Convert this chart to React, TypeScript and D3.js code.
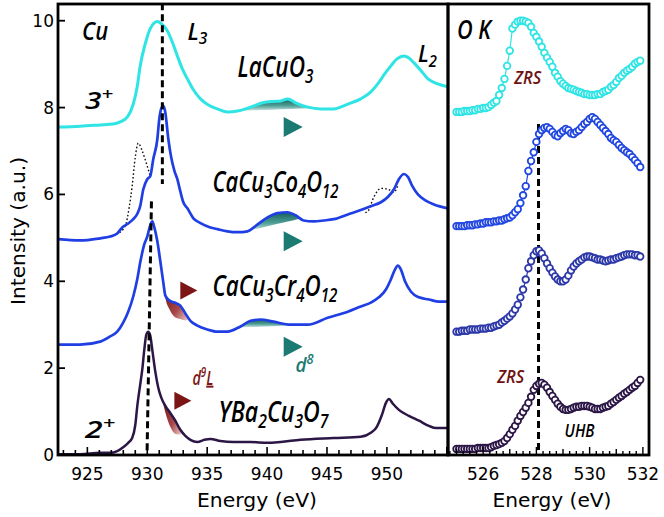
import React from "react";
import * as d3 from "d3";

const W = 664;
const H = 517;

// ---------------- Cu L-edge spectra (left panel): energy (eV) / intensity (a.u.) ----------------
const laCuO3E = [922.55, 924.39, 926.07, 927.15, 927.74, 928.33, 928.83, 929.16, 929.41, 929.83, 930.25, 930.59, 930.84, 931.17, 931.67, 932.09, 932.51, 932.93, 933.35, 933.85, 934.44, 935.1, 935.86, 936.69, 937.53, 938.62, 939.62, 940.46, 941.13, 941.72, 942.38, 943.39, 944.48, 945.56, 946.74, 947.82, 948.66, 949.25, 949.83, 950.33, 950.84, 951.42, 951.84, 952.26, 952.85, 953.43, 954.02, 954.52, 955.1];
const laCuO3I = [7.55, 7.57, 7.6, 7.62, 7.67, 7.78, 8.08, 8.48, 8.96, 9.47, 9.82, 9.95, 9.98, 9.93, 9.77, 9.51, 9.19, 8.89, 8.66, 8.41, 8.2, 8.06, 7.97, 7.9, 7.92, 8.01, 8.11, 8.14, 8.15, 8.2, 8.11, 8.01, 7.97, 7.97, 8.08, 8.2, 8.36, 8.55, 8.78, 8.96, 9.12, 9.19, 9.14, 9.03, 8.85, 8.66, 8.57, 8.52, 8.48];

const co4E = [922.55, 924.39, 926.07, 926.9, 927.49, 927.91, 928.41, 928.83, 929.16, 929.41, 929.67, 930.0, 930.25, 930.5, 930.84, 931.0, 931.2, 931.34, 931.5, 931.76, 932.0, 932.26, 932.51, 932.76, 933.01, 933.35, 933.85, 934.44, 935.27, 935.86, 936.69, 937.53, 938.37, 939.21, 940.04, 940.88, 941.72, 942.38, 943.05, 943.89, 944.73, 945.56, 946.74, 947.82, 948.66, 949.5, 950.08, 950.59, 951.0, 951.42, 951.76, 952.09, 952.59, 953.18, 953.93, 955.1];
const co4I = [4.97, 4.94, 4.99, 5.03, 5.1, 5.24, 5.33, 5.43, 5.55, 5.73, 6.12, 6.35, 6.42, 6.81, 7.27, 7.73, 8.0, 8.04, 7.9, 7.27, 6.85, 6.55, 6.35, 6.07, 5.82, 5.68, 5.45, 5.34, 5.24, 5.2, 5.15, 5.13, 5.15, 5.31, 5.47, 5.57, 5.59, 5.52, 5.4, 5.38, 5.4, 5.43, 5.54, 5.64, 5.73, 5.82, 5.94, 6.12, 6.35, 6.47, 6.4, 6.21, 6.0, 5.87, 5.77, 5.68];

// reference (dotted) spectrum segments near L3 and L2
const refL3E = [927.4, 928.16, 928.49, 928.74, 929.0, 929.25, 929.58, 930.0, 930.25];
const refL3I = [5.08, 5.27, 5.7, 6.19, 6.86, 7.18, 7.0, 6.65, 6.42];
const refL2E = [948.2, 948.41, 948.91, 949.5, 950.08, 950.59, 950.92];
const refL2I = [5.58, 5.61, 5.94, 6.14, 6.12, 6.05, 6.21];

const cr4E = [922.55, 924.39, 926.07, 926.9, 927.49, 927.99, 928.41, 928.83, 929.16, 929.41, 929.75, 930.0, 930.25, 930.42, 930.59, 930.84, 931.09, 931.34, 931.51, 931.84, 932.26, 932.76, 933.18, 933.6, 934.18, 935.02, 935.86, 936.69, 937.78, 938.62, 939.46, 940.54, 941.97, 943.39, 945.06, 946.74, 947.82, 948.66, 949.33, 949.92, 950.33, 950.67, 950.92, 951.17, 951.51, 952.01, 952.68, 953.51, 954.35, 955.1];
const cr4I = [2.54, 2.54, 2.61, 2.73, 2.84, 3.05, 3.3, 3.65, 4.04, 4.43, 4.85, 5.03, 5.29, 5.38, 5.24, 4.92, 4.46, 3.97, 3.67, 3.56, 3.51, 3.44, 3.26, 3.09, 2.98, 2.89, 2.84, 2.84, 2.96, 3.09, 3.12, 3.07, 3.0, 3.0, 3.16, 3.3, 3.42, 3.51, 3.63, 3.81, 4.04, 4.27, 4.36, 4.27, 4.0, 3.76, 3.63, 3.58, 3.53, 3.53];

const ybcoE = [922.55, 924.39, 926.07, 926.9, 927.49, 927.99, 928.41, 928.74, 929.0, 929.16, 929.41, 929.58, 929.75, 929.92, 930.08, 930.25, 930.42, 930.67, 930.92, 931.17, 931.51, 931.92, 932.34, 932.76, 933.18, 933.6, 934.18, 934.77, 935.27, 936.11, 937.2, 938.62, 940.04, 941.13, 942.8, 945.56, 947.82, 948.66, 949.16, 949.58, 949.92, 950.17, 950.5, 951.0, 951.84, 952.68, 953.51, 954.1, 955.1];
const ybcoI = [0.02, 0.02, 0.05, 0.05, 0.09, 0.18, 0.28, 0.39, 0.69, 1.11, 1.62, 1.96, 2.42, 2.77, 2.84, 2.75, 2.42, 1.92, 1.55, 1.32, 1.13, 0.97, 0.79, 0.58, 0.44, 0.35, 0.3, 0.35, 0.37, 0.32, 0.3, 0.3, 0.28, 0.3, 0.35, 0.39, 0.42, 0.51, 0.65, 0.92, 1.2, 1.29, 1.18, 1.04, 0.9, 0.79, 0.67, 0.62, 0.62];

// ---------------- O K-edge spectra (right panel) ----------------
const okE = [525.0, 525.1, 525.2, 525.3, 525.4, 525.5, 525.6, 525.7, 525.8, 525.9, 526.0, 526.1, 526.2, 526.3, 526.4, 526.5, 526.6, 526.7, 526.8, 526.9, 527.0, 527.1, 527.2, 527.3, 527.4, 527.5, 527.6, 527.7, 527.8, 527.9, 528.0, 528.1, 528.2, 528.3, 528.4, 528.5, 528.6, 528.7, 528.8, 528.9, 529.0, 529.1, 529.2, 529.3, 529.4, 529.5, 529.6, 529.7, 529.8, 529.9, 530.0, 530.1, 530.2, 530.3, 530.4, 530.5, 530.6, 530.7, 530.8, 530.9, 531.0, 531.1, 531.2, 531.3, 531.4, 531.5, 531.6, 531.7, 531.8, 531.9];
const okLaCuO3 = [7.9, 7.9, 7.9, 7.92, 7.92, 7.92, 7.94, 7.94, 7.97, 7.97, 7.99, 7.99, 8.01, 8.06, 8.11, 8.15, 8.29, 8.45, 8.66, 8.96, 9.31, 9.82, 9.91, 9.98, 10.0, 10.0, 9.98, 9.95, 9.86, 9.72, 9.63, 9.52, 9.4, 9.26, 9.15, 9.05, 8.94, 8.8, 8.71, 8.61, 8.55, 8.5, 8.45, 8.43, 8.41, 8.38, 8.36, 8.34, 8.31, 8.31, 8.29, 8.29, 8.29, 8.31, 8.31, 8.36, 8.38, 8.41, 8.48, 8.52, 8.59, 8.68, 8.73, 8.8, 8.85, 8.89, 8.94, 9.01, 9.05, 9.08];
const okCo4 = [5.27, 5.27, 5.27, 5.27, 5.29, 5.29, 5.29, 5.31, 5.31, 5.33, 5.33, 5.36, 5.36, 5.36, 5.38, 5.38, 5.4, 5.4, 5.43, 5.45, 5.47, 5.52, 5.59, 5.66, 5.8, 5.98, 6.19, 6.54, 6.77, 6.97, 7.21, 7.39, 7.48, 7.53, 7.55, 7.51, 7.44, 7.37, 7.34, 7.41, 7.46, 7.51, 7.48, 7.41, 7.39, 7.44, 7.48, 7.55, 7.62, 7.67, 7.74, 7.78, 7.74, 7.67, 7.6, 7.53, 7.46, 7.39, 7.3, 7.25, 7.21, 7.14, 7.07, 7.02, 6.97, 6.93, 6.86, 6.79, 6.72, 6.63];
const okCr4 = [2.84, 2.84, 2.86, 2.86, 2.86, 2.89, 2.89, 2.89, 2.89, 2.91, 2.91, 2.91, 2.93, 2.93, 2.96, 2.98, 3.0, 3.05, 3.09, 3.14, 3.19, 3.26, 3.35, 3.46, 3.63, 3.81, 4.04, 4.3, 4.46, 4.6, 4.69, 4.71, 4.64, 4.53, 4.41, 4.3, 4.2, 4.11, 4.04, 4.0, 4.0, 4.04, 4.13, 4.25, 4.34, 4.41, 4.46, 4.5, 4.55, 4.57, 4.57, 4.55, 4.53, 4.5, 4.5, 4.48, 4.46, 4.48, 4.5, 4.5, 4.53, 4.55, 4.57, 4.6, 4.62, 4.62, 4.62, 4.6, 4.6, 4.57];
const okYBCO = [0.14, 0.14, 0.14, 0.14, 0.14, 0.14, 0.14, 0.14, 0.16, 0.16, 0.16, 0.16, 0.16, 0.18, 0.21, 0.23, 0.25, 0.28, 0.32, 0.39, 0.48, 0.58, 0.67, 0.79, 0.9, 0.99, 1.09, 1.2, 1.34, 1.5, 1.59, 1.64, 1.66, 1.62, 1.55, 1.45, 1.36, 1.27, 1.18, 1.11, 1.06, 1.04, 1.04, 1.06, 1.09, 1.11, 1.11, 1.13, 1.13, 1.13, 1.11, 1.09, 1.06, 1.06, 1.06, 1.09, 1.11, 1.13, 1.18, 1.22, 1.27, 1.32, 1.36, 1.41, 1.45, 1.5, 1.55, 1.59, 1.66, 1.73];

// ---------------- axes ----------------
const cuTickLabels = [925, 930, 935, 940, 945, 950];
const okTickLabels = [526, 528, 530, 532];
const yTickLabels = [0, 2, 4, 6, 8, 10];

// dashed guide lines [energy, intensity] pairs
const guideUpper = [[931.26, 10.4], [931.26, 6.24]];
const guideLower = [[930.35, 5.84], [929.98, 0]];
const guideOK = [[528.08, 7.62], [528.08, 0]];

// shaded features: [series, from eV, to eV]
const tealRanges = [
  ["la", 937.36, 943.89],
  ["co", 938.03, 942.8],
  ["cr", 937.53, 943.39],
];
const redRanges = [
  ["cr", 931.42, 933.51],
  ["yb", 931.26, 932.93],
];
// triangle markers [eV, intensity, kind]
const markers = [
  [942.18, 7.55, "teal"],
  [942.18, 4.92, "teal"],
  [942.18, 2.49, "teal"],
  [933.47, 3.79, "red"],
  [932.97, 1.25, "red"],
];

const COLORS = {
  cyan: "#2fe4e4",
  blue: "#1f3fe4",
  okBlue: "#2147e0",
  navy: "#2c37a8",
  dark: "#2b1646",
  teal: "#1b7a72",
  red: "#7c1616",
};

type Part = { t: string; s?: "sub" | "sup"; u?: boolean };

function Formula(props: {
  x: number;
  y: number;
  parts: Part[];
  size: number;
  fill?: string;
  len?: number;
  weight?: number;
}) {
  const { x, y, parts, size, fill = "#000", len, weight = 600 } = props;
  let cur = 0;
  const els = parts.map((p, i) => {
    const target = p.s === "sub" ? size * 0.2 : p.s === "sup" ? -size * 0.36 : 0;
    const dy = target - cur;
    cur = target;
    return (
      <tspan
        key={i}
        dy={dy}
        fontSize={p.s ? size * 0.68 : size}
        textDecoration={p.u ? "underline" : undefined}
      >
        {p.t}
      </tspan>
    );
  });
  return (
    <text
      x={x}
      y={y}
      fill={fill}
      fontSize={size}
      fontStyle="italic"
      fontWeight={weight}
      fontFamily="'Open Sans', 'Noto Sans', sans-serif"
      textLength={len}
      lengthAdjust={len ? "spacingAndGlyphs" : undefined}
    >
      {els}
    </text>
  );
}

function interp(E: number[], I: number[], x: number) {
  for (let i = 0; i < E.length - 1; i++) {
    if (x >= E[i] && x <= E[i + 1]) {
      const t = (x - E[i]) / (E[i + 1] - E[i]);
      return I[i] + t * (I[i + 1] - I[i]);
    }
  }
  return I[I.length - 1];
}

export default function App() {
  const xL = d3.scaleLinear().domain([922.55, 955.1]).range([58, 448]);
  const y = d3.scaleLinear().domain([0, 10.385]).range([455, 4]);
  const xR = d3.scaleLinear().domain([524.68, 532.23]).range([448, 649]);

  const series: Record<string, [number[], number[]]> = {
    la: [laCuO3E, laCuO3I],
    co: [co4E, co4I],
    cr: [cr4E, cr4I],
    yb: [ybcoE, ybcoI],
  };

  const lineL = (E: number[], I: number[], curve = d3.curveMonotoneX) =>
    d3
      .line<number>()
      .x((_, i) => xL(E[i]))
      .y((d) => y(d))
      .curve(curve)(I) || "";

  const lineR = (I: number[]) =>
    d3
      .line<number>()
      .x((_, i) => xR(okE[i]))
      .y((d) => y(d))
      .curve(d3.curveLinear)(I) || "";

  const shadeArea = (key: string, a: number, b: number, mode: "chord" | "lens", h: number) => {
    const [E, I] = series[key];
    const pts: [number, number][] = [[a, interp(E, I, a)]];
    E.forEach((e, i) => {
      if (e > a && e < b) pts.push([e, I[i]]);
    });
    pts.push([b, interp(E, I, b)]);
    const ya = pts[0][1];
    const yb = pts[pts.length - 1][1];
    return (
      d3
        .area<[number, number]>()
        .x((d) => xL(d[0]))
        .y1((d) => y(d[1]))
        .y0((d) => {
          const t = (d[0] - a) / (b - a);
          const base = mode === "chord" ? ya + (yb - ya) * t : d[1] - h * Math.sin(Math.PI * t);
          return y(base);
        })
        .curve(d3.curveMonotoneX)(pts) || ""
    );
  };

  const tri = (cx: number, cy: number, w: number, hh: number) =>
    `M${cx - w / 2},${cy - hh / 2}L${cx + w / 2},${cy}L${cx - w / 2},${cy + hh / 2}Z`;

  const axisFont = "'DejaVu Sans', 'Liberation Sans', sans-serif";

  const leftTicks = d3.range(923, 956);
  const rightTicks = d3.range(524.75, 532.24, 0.25);

  const okSeries: [number[], string][] = [
    [okLaCuO3, COLORS.cyan],
    [okCo4, COLORS.okBlue],
    [okCr4, COLORS.navy],
    [okYBCO, COLORS.dark],
  ];

  return (
    <svg
      width={W}
      height={H}
      viewBox={`0 0 ${W} ${H}`}
      style={{ position: "absolute", left: 0, top: 0, background: "#fff" }}
    >
      <defs>
        <clipPath id="clipL">
          <rect x={58} y={4} width={390} height={451} />
        </clipPath>
        <clipPath id="clipR">
          <rect x={448} y={4} width={201} height={451} />
        </clipPath>
        <linearGradient id="tealGrad" x1="0" y1="0" x2="0" y2="1">
          <stop offset="0" stopColor="#135f58" />
          <stop offset="0.55" stopColor="#4f9f97" />
          <stop offset="1" stopColor="#d8ecea" />
        </linearGradient>
        <linearGradient id="redGrad" x1="0" y1="0" x2="1" y2="1">
          <stop offset="0" stopColor="#701010" />
          <stop offset="0.6" stopColor="#a84848" />
          <stop offset="1" stopColor="#f2d2d2" />
        </linearGradient>
      </defs>

      <rect x={0} y={0} width={W} height={H} fill="#fff" />

      {/* ---------- left panel ---------- */}
      <g clipPath="url(#clipL)">
        {tealRanges.map(([k, a, b], i) => (
          <path key={"t" + i} d={shadeArea(k as string, a as number, b as number, "chord", 0)} fill="url(#tealGrad)" />
        ))}
        {redRanges.map(([k, a, b], i) => (
          <path key={"r" + i} d={shadeArea(k as string, a as number, b as number, "lens", 0.34)} fill="url(#redGrad)" />
        ))}
        <path d={lineL(refL3E, refL3I)} fill="none" stroke="#111" strokeWidth={1.4} strokeDasharray="1.6 2.2" />
        <path d={lineL(refL2E, refL2I)} fill="none" stroke="#111" strokeWidth={1.4} strokeDasharray="1.6 2.2" />
        <path d={lineL(laCuO3E, laCuO3I)} fill="none" stroke={COLORS.cyan} strokeWidth={3} />
        <path d={lineL(co4E, co4I)} fill="none" stroke={COLORS.blue} strokeWidth={2.7} />
        <path d={lineL(cr4E, cr4I)} fill="none" stroke={COLORS.blue} strokeWidth={2.7} />
        <path d={lineL(ybcoE, ybcoI)} fill="none" stroke={COLORS.dark} strokeWidth={2.5} />
        {[guideUpper, guideLower].map((g, i) => (
          <line
            key={"g" + i}
            x1={xL(g[0][0])}
            y1={y(g[0][1])}
            x2={xL(g[1][0])}
            y2={y(g[1][1])}
            stroke="#000"
            strokeWidth={3}
            strokeDasharray="7 4"
          />
        ))}
        {markers.map(([e, v, k], i) => (
          <path
            key={"m" + i}
            d={tri(xL(e as number), y(v as number), k === "teal" ? 19 : 17, k === "teal" ? 20 : 18)}
            fill={k === "teal" ? COLORS.teal : COLORS.red}
          />
        ))}
      </g>

      {/* left annotations */}
      <Formula x={xL(924.56)} y={y(9.56)} size={25} len={26} parts={[{ t: "Cu" }]} />
      <Formula x={xL(933.35)} y={y(9.56)} size={23} len={20} parts={[{ t: "L" }, { t: "3", s: "sub" }]} />
      <Formula x={xL(952.59)} y={y(9.05)} size={23} len={19} parts={[{ t: "L" }, { t: "2", s: "sub" }]} />
      <Formula x={xL(924.81)} y={y(7.97)} size={24} len={28} parts={[{ t: "3" }, { t: "+", s: "sup" }]} />
      <Formula x={xL(937.53)} y={y(8.7)} size={29} len={76} parts={[{ t: "LaCuO" }, { t: "3", s: "sub" }]} />
      <Formula
        x={xL(935.44)}
        y={y(6.05)}
        size={29}
        len={126}
        parts={[{ t: "CaCu" }, { t: "3", s: "sub" }, { t: "Co" }, { t: "4", s: "sub" }, { t: "O" }, { t: "12", s: "sub" }]}
      />
      <Formula
        x={xL(935.44)}
        y={y(3.65)}
        size={29}
        len={125}
        parts={[{ t: "CaCu" }, { t: "3", s: "sub" }, { t: "Cr" }, { t: "4", s: "sub" }, { t: "O" }, { t: "12", s: "sub" }]}
      />
      <Formula
        x={xL(935.94)}
        y={y(0.76)}
        size={29}
        len={110}
        parts={[{ t: "YBa" }, { t: "2", s: "sub" }, { t: "Cu" }, { t: "3", s: "sub" }, { t: "O" }, { t: "7", s: "sub" }]}
      />
      <Formula x={xL(924.81)} y={y(0.39)} size={24} len={30} parts={[{ t: "2" }, { t: "+", s: "sup" }]} />
      <Formula
        x={xL(933.77)}
        y={y(1.62)}
        size={20}
        len={21}
        fill={COLORS.red}
        parts={[{ t: "d" }, { t: "9", s: "sup" }, { t: "L", u: true }]}
      />
      <Formula x={xL(942.38)} y={y(1.92)} size={20} len={18} fill={COLORS.teal} parts={[{ t: "d" }, { t: "8", s: "sup" }]} />

      {/* ---------- right panel ---------- */}
      <g clipPath="url(#clipR)">
        <line
          x1={xR(guideOK[0][0])}
          y1={y(guideOK[0][1])}
          x2={xR(guideOK[1][0])}
          y2={y(guideOK[1][1])}
          stroke="#000"
          strokeWidth={3}
          strokeDasharray="7 4"
        />
        {okSeries.map(([vals, col], si) => (
          <g key={"ok" + si}>
            <path d={lineR(vals)} fill="none" stroke={col} strokeWidth={1.2} />
            {vals.map((v, i) => (
              <circle key={i} cx={xR(okE[i])} cy={y(v)} r={3.3} fill="#fff" stroke={col} strokeWidth={1.8} />
            ))}
          </g>
        ))}
      </g>
      <Formula x={xR(525.02)} y={y(9.58)} size={27} len={34} parts={[{ t: "O K" }]} />
      <Formula x={xR(527.17)} y={y(8.55)} size={18} len={27} fill="#6e1212" parts={[{ t: "ZRS" }]} />
      <Formula x={xR(526.53)} y={y(1.66)} size={18} len={27} fill="#6e1212" parts={[{ t: "ZRS" }]} />
      <Formula x={xR(529.06)} y={y(0.42)} size={18} len={30} parts={[{ t: "UHB" }]} />

      {/* ---------- frames, ticks, labels ---------- */}
      <rect x={58} y={4} width={390} height={451} fill="none" stroke="#000" strokeWidth={2.8} />
      <rect x={448} y={4} width={201} height={451} fill="none" stroke="#000" strokeWidth={2.8} />

      {leftTicks.map((t) => (
        <line
          key={"lt" + t}
          x1={xL(t)}
          x2={xL(t)}
          y1={455}
          y2={455 - (t % 5 === 0 ? 8 : 5)}
          stroke="#000"
          strokeWidth={1.6}
        />
      ))}
      {cuTickLabels.map((t) => (
        <text key={"ll" + t} x={xL(t)} y={480} textAnchor="middle" fontSize={17} fontFamily={axisFont} fill="#000">
          {t}
        </text>
      ))}
      {rightTicks.map((t) => {
        const isInt = Math.abs(t - Math.round(t)) < 1e-6;
        const isMajor = isInt && Math.round(t) % 2 === 0;
        return (
          <line
            key={"rt" + t}
            x1={xR(t)}
            x2={xR(t)}
            y1={455}
            y2={455 - (isMajor ? 8 : isInt ? 6 : 4)}
            stroke="#000"
            strokeWidth={1.4}
          />
        );
      })}
      {okTickLabels.map((t) => (
        <text key={"rl" + t} x={xR(t)} y={480} textAnchor="middle" fontSize={17} fontFamily={axisFont} fill="#000">
          {t}
        </text>
      ))}
      {yTickLabels.map((t) => (
        <g key={"yt" + t}>
          <line x1={58} x2={65} y1={y(t)} y2={y(t)} stroke="#000" strokeWidth={1.8} />
          <text x={54} y={y(t) + 6} textAnchor="end" fontSize={17} fontFamily={axisFont} fill="#000">
            {t}
          </text>
        </g>
      ))}

      <text x={257} y={507} textAnchor="middle" fontSize={19} fontFamily={axisFont} textLength={120} lengthAdjust="spacingAndGlyphs">
        Energy (eV)
      </text>
      <text x={552} y={507} textAnchor="middle" fontSize={19} fontFamily={axisFont} textLength={119} lengthAdjust="spacingAndGlyphs">
        Energy (eV)
      </text>
      <text
        transform="translate(25,231) rotate(-90)"
        textAnchor="middle"
        fontSize={20}
        fontFamily={axisFont}
        textLength={148}
        lengthAdjust="spacingAndGlyphs"
      >
        Intensity (a.u.)
      </text>
    </svg>
  );
}
